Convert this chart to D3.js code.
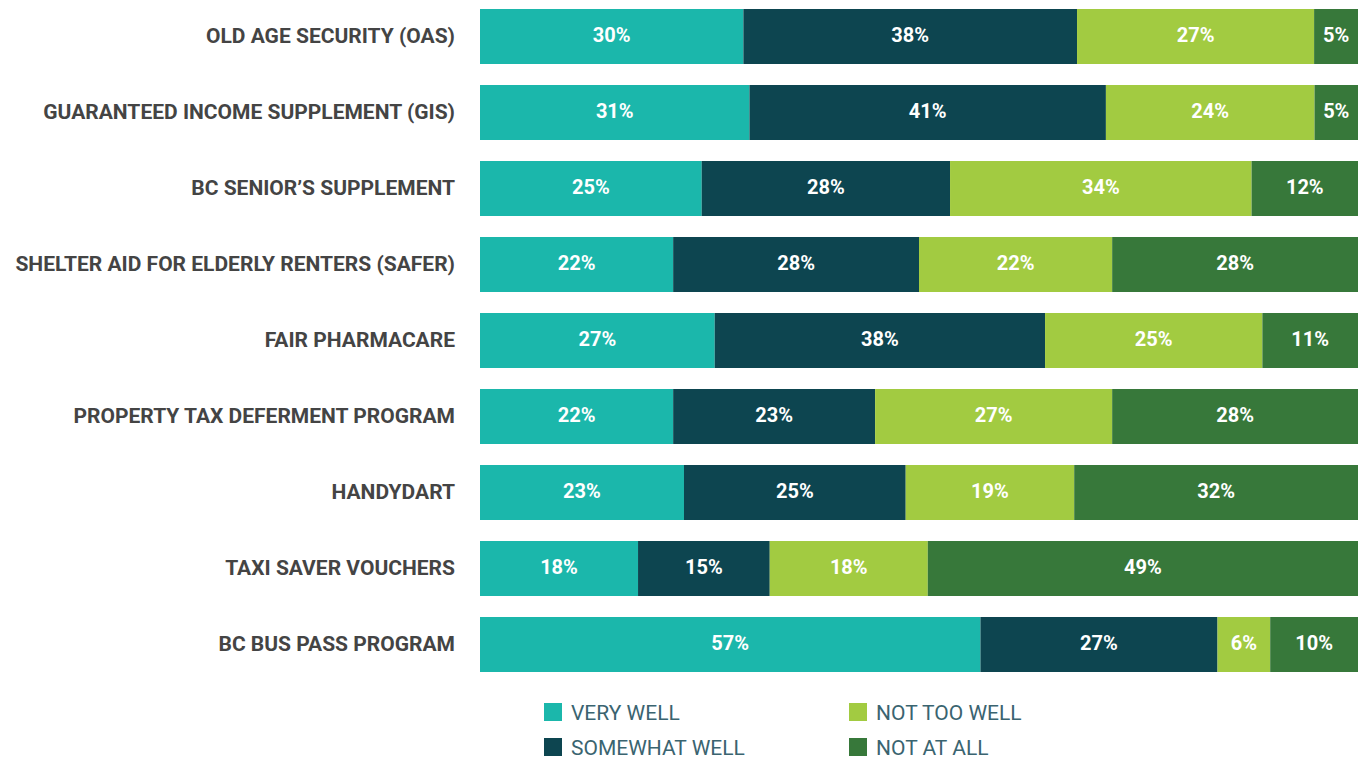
<!DOCTYPE html>
<html><head><meta charset="utf-8">
<script src="https://cdn.jsdelivr.net/npm/d3@7"></script>
<style>body{margin:0;background:#fff;} svg{display:block;}</style>
</head><body>
<svg id="chart" width="1361" height="761"></svg>
<script>
const categories = ["OLD AGE SECURITY (OAS)","GUARANTEED INCOME SUPPLEMENT (GIS)","BC SENIOR\u2019S SUPPLEMENT","SHELTER AID FOR ELDERLY RENTERS (SAFER)","FAIR PHARMACARE","PROPERTY TAX DEFERMENT PROGRAM","HANDYDART","TAXI SAVER VOUCHERS","BC BUS PASS PROGRAM"];
const seriesNames = ["VERY WELL","SOMEWHAT WELL","NOT TOO WELL","NOT AT ALL"];
const veryWell = [30,31,25,22,27,22,23,18,57];
const somewhatWell = [38,41,28,28,38,23,25,15,27];
const notTooWell = [27,24,34,22,25,27,19,18,6];
const notAtAll = [5,5,12,28,11,28,32,49,10];
const colors = ["#1bb7ab","#0d4550","#a2cb41","#37783a"];

const rows = categories.map((c,i)=>({cat:c, "VERY WELL":veryWell[i], "SOMEWHAT WELL":somewhatWell[i], "NOT TOO WELL":notTooWell[i], "NOT AT ALL":notAtAll[i]}));
const stack = d3.stack().keys(seriesNames).offset(d3.stackOffsetExpand);
const stacked = stack(rows);

const svg = d3.select("#chart");
const x = d3.scaleLinear().domain([0,1]).range([480,1358]);
const y = d3.scaleBand().domain(categories).range([9, 9+76*9 - 21]).paddingInner(21/76).paddingOuter(0);

const color = d3.scaleOrdinal().domain(seriesNames).range(colors);
const FONT = "Roboto, 'Open Sans', sans-serif";

const g = svg.append("g");
stacked.forEach((s)=>{
  const sg = g.append("g").attr("fill", color(s.key));
  sg.selectAll("rect").data(s).join("rect")
    .attr("x", d=>x(d[0])).attr("width", d=>x(d[1])-x(d[0]))
    .attr("y", d=>y(d.data.cat)).attr("height", y.bandwidth());
  g.append("g").selectAll("text").data(s).join("text")
    .attr("x", d=>(x(d[0])+x(d[1]))/2)
    .attr("y", d=>y(d.data.cat)+y.bandwidth()/2 + 5.8)
    .attr("text-anchor","middle")
    .attr("fill","#fff")
    .attr("font-family",FONT)
    .attr("font-weight","700")
    .attr("font-size","20px")
    .text(d=>d.data[s.key]+"%");
});

// category labels (y axis)
const yAxis = d3.axisLeft(y).tickSize(0).tickPadding(0);
const ax = svg.append("g").attr("transform","translate(455,0)").call(yAxis);
ax.select(".domain").remove();
ax.selectAll("text")
  .attr("dy","0.3em")
  .attr("font-family",FONT)
  .attr("font-weight","700")
  .attr("font-size","21px")
  .attr("fill","#444444");

// legend
const legendPos = [[544,703],[544,738],[849,703],[849,738]];
const lg = svg.append("g");
seriesNames.forEach((n,i)=>{
  const [lx,ly] = legendPos[i];
  lg.append("rect").attr("x",lx).attr("y",ly).attr("width",18).attr("height",18).attr("fill",color(n));
  lg.append("text").attr("x",lx+27).attr("y",ly+9).attr("dy","0.36em")
    .attr("font-family",FONT)
    .attr("font-size","21px").attr("fill","#3a6470").text(n);
});
</script>
</body></html>
